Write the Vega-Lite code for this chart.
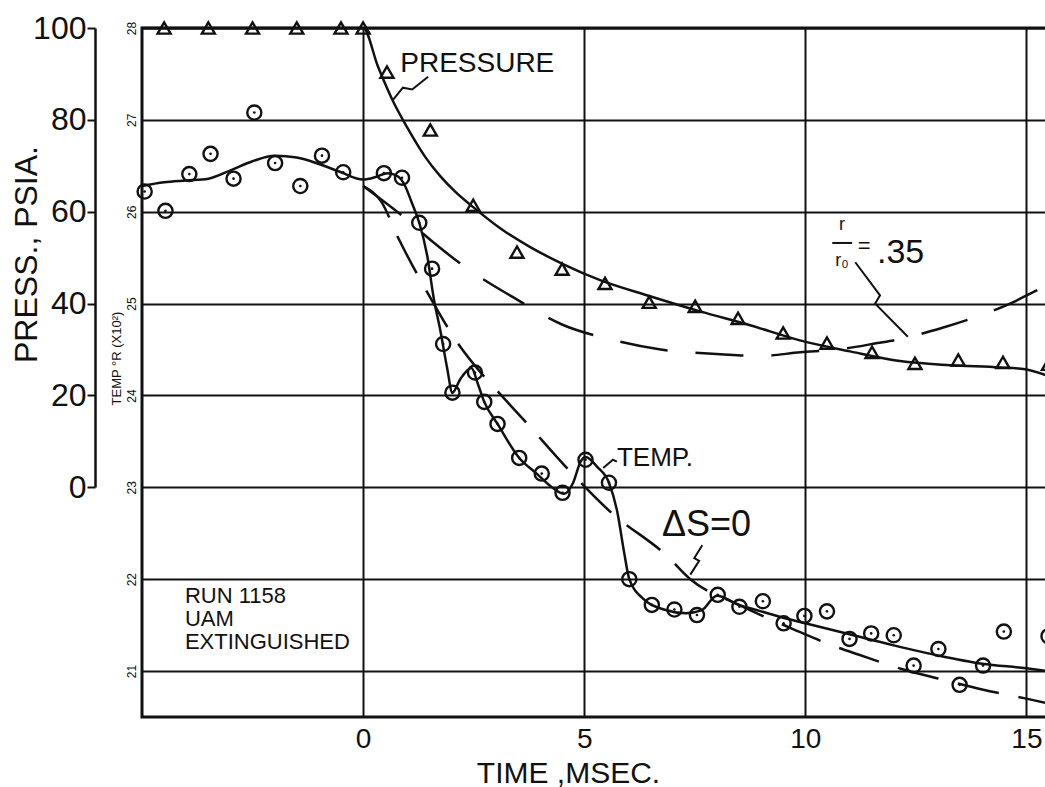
{
  "$schema": "https://vega.github.io/schema/vega-lite/v6.json",
  "width": 905,
  "height": 689,
  "autosize": "none",
  "padding": {"left": 142, "top": 28, "right": 0, "bottom": 70},
  "background": "white",
  "config": {
    "view": {"stroke": "#111", "strokeWidth": 3},
    "font": "Liberation Sans",
    "axis": {"labelFont": "Liberation Sans", "titleFont": "Liberation Sans", "labelColor": "#111", "titleColor": "#111", "titleFontWeight": "normal"}
  },
  "datasets": {
    "tempPoints": [
      {"t": -4.94, "T": 26.22}, {"t": -4.47, "T": 26.01}, {"t": -3.93, "T": 26.41}, {"t": -3.45, "T": 26.63},
      {"t": -2.93, "T": 26.36}, {"t": -2.46, "T": 27.08}, {"t": -1.99, "T": 26.53}, {"t": -1.42, "T": 26.28},
      {"t": -0.93, "T": 26.61}, {"t": -0.45, "T": 26.43}, {"t": 0.47, "T": 26.42}, {"t": 0.88, "T": 26.37},
      {"t": 1.27, "T": 25.88}, {"t": 1.56, "T": 25.38}, {"t": 1.81, "T": 24.56}, {"t": 2.02, "T": 24.03},
      {"t": 2.53, "T": 24.25}, {"t": 2.74, "T": 23.93}, {"t": 3.04, "T": 23.69}, {"t": 3.53, "T": 23.32},
      {"t": 4.04, "T": 23.15}, {"t": 4.51, "T": 22.94}, {"t": 5.03, "T": 23.3}, {"t": 5.56, "T": 23.05},
      {"t": 6.02, "T": 22.0}, {"t": 6.53, "T": 21.72}, {"t": 7.04, "T": 21.67}, {"t": 7.55, "T": 21.61},
      {"t": 8.02, "T": 21.83}, {"t": 8.51, "T": 21.7}, {"t": 9.04, "T": 21.76}, {"t": 9.51, "T": 21.52},
      {"t": 9.98, "T": 21.6}, {"t": 10.49, "T": 21.65}, {"t": 11.0, "T": 21.35}, {"t": 11.49, "T": 21.41},
      {"t": 12.0, "T": 21.39}, {"t": 12.45, "T": 21.06}, {"t": 13.01, "T": 21.24}, {"t": 13.49, "T": 20.85},
      {"t": 14.02, "T": 21.06}, {"t": 14.49, "T": 21.43}, {"t": 15.5, "T": 21.38}
    ],
    "tempCurve": [
      {"t": -5.0, "T": 26.28}, {"t": -4.5, "T": 26.32}, {"t": -4.0, "T": 26.34}, {"t": -3.5, "T": 26.36},
      {"t": -3.0, "T": 26.45}, {"t": -2.5, "T": 26.55}, {"t": -2.0, "T": 26.61}, {"t": -1.5, "T": 26.59},
      {"t": -1.0, "T": 26.52}, {"t": -0.5, "T": 26.43}, {"t": 0.0, "T": 26.35}, {"t": 0.3, "T": 26.38},
      {"t": 0.55, "T": 26.42}, {"t": 0.8, "T": 26.38}, {"t": 0.95, "T": 26.28}, {"t": 1.1, "T": 26.1},
      {"t": 1.27, "T": 25.88}, {"t": 1.45, "T": 25.52}, {"t": 1.6, "T": 25.05}, {"t": 1.75, "T": 24.7},
      {"t": 1.9, "T": 24.3}, {"t": 2.02, "T": 24.03}, {"t": 2.2, "T": 24.18}, {"t": 2.45, "T": 24.3},
      {"t": 2.6, "T": 24.12}, {"t": 2.74, "T": 23.93}, {"t": 3.04, "T": 23.69}, {"t": 3.53, "T": 23.32},
      {"t": 3.9, "T": 23.16}, {"t": 4.3, "T": 22.99}, {"t": 4.55, "T": 22.93}, {"t": 4.75, "T": 23.05},
      {"t": 4.92, "T": 23.28}, {"t": 5.03, "T": 23.33}, {"t": 5.3, "T": 23.22}, {"t": 5.56, "T": 23.05},
      {"t": 5.75, "T": 22.73}, {"t": 5.9, "T": 22.3}, {"t": 6.02, "T": 22.0}, {"t": 6.35, "T": 21.78},
      {"t": 6.8, "T": 21.67}, {"t": 7.3, "T": 21.63}, {"t": 7.65, "T": 21.66}, {"t": 8.0, "T": 21.82},
      {"t": 8.5, "T": 21.72}, {"t": 9.0, "T": 21.65}, {"t": 9.5, "T": 21.58}, {"t": 10.0, "T": 21.52},
      {"t": 11.0, "T": 21.4}, {"t": 12.0, "T": 21.28}, {"t": 13.0, "T": 21.17}, {"t": 14.0, "T": 21.08},
      {"t": 15.0, "T": 21.03}, {"t": 15.47, "T": 21.0}
    ],
    "isentropic": [
      {"t": 0.0, "T": 26.28}, {"t": 0.41, "T": 26.11}, {"t": 0.81, "T": 25.7}, {"t": 1.42, "T": 25.15},
      {"t": 2.17, "T": 24.55}, {"t": 2.73, "T": 24.21}, {"t": 3.07, "T": 24.03}, {"t": 3.68, "T": 23.71},
      {"t": 4.63, "T": 23.2}, {"t": 5.6, "T": 22.73}, {"t": 6.88, "T": 22.25}, {"t": 7.4, "T": 22.0},
      {"t": 8.5, "T": 21.72}, {"t": 9.71, "T": 21.46}, {"t": 10.66, "T": 21.27}, {"t": 11.2, "T": 21.18},
      {"t": 12.2, "T": 21.02}, {"t": 13.0, "T": 20.92}, {"t": 14.0, "T": 20.8}, {"t": 15.0, "T": 20.7},
      {"t": 15.47, "T": 20.65}
    ],
    "ratio035": [
      {"t": 0.0, "T": 26.28}, {"t": 0.9, "T": 25.95}, {"t": 1.58, "T": 25.67}, {"t": 2.33, "T": 25.39},
      {"t": 3.39, "T": 25.07}, {"t": 4.51, "T": 24.77}, {"t": 5.6, "T": 24.61}, {"t": 6.73, "T": 24.5},
      {"t": 8.08, "T": 24.45}, {"t": 8.98, "T": 24.43}, {"t": 9.89, "T": 24.47}, {"t": 10.74, "T": 24.5},
      {"t": 11.63, "T": 24.57}, {"t": 12.1, "T": 24.61}, {"t": 13.12, "T": 24.74}, {"t": 13.77, "T": 24.84},
      {"t": 14.68, "T": 25.01}, {"t": 15.13, "T": 25.12}, {"t": 15.47, "T": 25.2}
    ],
    "leaders": [
      {"g": "pressure", "i": 1, "t": 0.68, "T": 27.22}, {"g": "pressure", "i": 2, "t": 0.9, "T": 27.35},
      {"g": "pressure", "i": 3, "t": 1.11, "T": 27.33}, {"g": "pressure", "i": 4, "t": 1.47, "T": 27.47},
      {"g": "temp", "i": 1, "t": 5.43, "T": 23.21}, {"g": "temp", "i": 2, "t": 5.65, "T": 23.3},
      {"g": "temp", "i": 3, "t": 5.74, "T": 23.28},
      {"g": "ds", "i": 1, "t": 7.67, "T": 22.37}, {"g": "ds", "i": 2, "t": 7.49, "T": 22.23},
      {"g": "ds", "i": 3, "t": 7.6, "T": 22.2}, {"g": "ds", "i": 4, "t": 7.4, "T": 22.05},
      {"g": "ratio", "i": 1, "t": 11.13, "T": 25.45}, {"g": "ratio", "i": 2, "t": 11.69, "T": 25.09},
      {"g": "ratio", "i": 3, "t": 11.58, "T": 25.0}, {"g": "ratio", "i": 4, "t": 12.32, "T": 24.64},
      {"g": "fracbar", "i": 1, "t": 10.61, "T": 25.66}, {"g": "fracbar", "i": 2, "t": 11.06, "T": 25.66}
    ],
    "pressCurve": [
      {"t": -5.0, "p": 100}, {"t": -2.5, "p": 100}, {"t": 0.0, "p": 100}, {"t": 0.34, "p": 91.5},
      {"t": 0.68, "p": 84.0}, {"t": 1.0, "p": 78.3}, {"t": 1.4, "p": 72.0}, {"t": 1.74, "p": 67.8},
      {"t": 2.1, "p": 64.2}, {"t": 2.49, "p": 61.0}, {"t": 3.1, "p": 56.4}, {"t": 3.78, "p": 52.3},
      {"t": 4.52, "p": 48.6}, {"t": 5.36, "p": 45.1}, {"t": 6.49, "p": 41.6}, {"t": 7.62, "p": 38.3},
      {"t": 8.75, "p": 35.3}, {"t": 9.88, "p": 32.0}, {"t": 11.01, "p": 29.6}, {"t": 12.14, "p": 27.5},
      {"t": 13.27, "p": 26.6}, {"t": 14.41, "p": 26.1}, {"t": 14.97, "p": 25.7}, {"t": 15.47, "p": 24.3}
    ],
    "pressPoints": [
      {"t": -4.5, "p": 100}, {"t": -3.5, "p": 100}, {"t": -2.5, "p": 100}, {"t": -1.5, "p": 100},
      {"t": -0.5, "p": 100}, {"t": 0.0, "p": 100}, {"t": 0.54, "p": 90.4}, {"t": 1.52, "p": 77.8},
      {"t": 2.49, "p": 61.4}, {"t": 3.48, "p": 51.2}, {"t": 4.5, "p": 47.5}, {"t": 5.47, "p": 44.4},
      {"t": 6.47, "p": 40.3}, {"t": 7.51, "p": 39.4}, {"t": 8.48, "p": 36.8}, {"t": 9.5, "p": 33.6},
      {"t": 10.49, "p": 31.4}, {"t": 11.51, "p": 29.4}, {"t": 12.48, "p": 27.0}, {"t": 13.46, "p": 27.7},
      {"t": 14.47, "p": 27.2}, {"t": 15.5, "p": 26.8}
    ]
  },
  "encoding": {
    "x": {
      "field": "t",
      "type": "quantitative",
      "scale": {"domain": [-5, 15.466], "nice": false, "zero": false},
      "axis": {
        "values": [0, 5, 10, 15],
        "grid": true, "gridColor": "#111", "gridWidth": 2, "gridOpacity": 1,
        "domain": false, "ticks": false,
        "labelFontSize": 28, "labelPadding": 8, "labelFlush": false,
        "title": "TIME ,MSEC.", "titleFontSize": 30,
        "titleX": 426, "titleY": 56, "titleAlign": "center", "titleBaseline": "middle"
      }
    }
  },
  "layer": [
    {
      "encoding": {
        "y": {
          "field": "T",
          "type": "quantitative",
          "scale": {"domain": [20.5, 28], "nice": false, "zero": false},
          "axis": {
            "orient": "left",
            "values": [21, 22, 23, 24, 25, 26, 27, 28],
            "grid": true, "gridColor": "#111", "gridWidth": 2, "gridOpacity": 1,
            "domain": false, "ticks": false,
            "labelAngle": -90, "labelAlign": "center", "labelBaseline": "bottom",
            "labelFontSize": 12, "labelPadding": 4,
            "title": "TEMP °R (X10²)", "titleFontSize": 13,
            "titleAngle": -90, "titleX": -26, "titleY": 330, "titleAlign": "center", "titleBaseline": "middle"
          }
        }
      },
      "layer": [
        {"data": {"name": "tempCurve"}, "mark": {"type": "line", "color": "#111", "strokeWidth": 2.5, "interpolate": "monotone"}},
        {"data": {"name": "isentropic"}, "mark": {"type": "line", "color": "#111", "strokeWidth": 2.5, "strokeDash": [42, 20], "interpolate": "monotone"}},
        {"data": {"name": "ratio035"}, "mark": {"type": "line", "color": "#111", "strokeWidth": 2.5, "strokeDash": [48, 28], "interpolate": "monotone"}},
        {"data": {"name": "tempPoints"}, "mark": {"type": "point", "shape": "circle", "filled": false, "size": 200, "strokeWidth": 2.4, "color": "#111", "opacity": 1}},
        {"data": {"name": "tempPoints"}, "mark": {"type": "point", "shape": "circle", "filled": true, "size": 7, "color": "#111", "opacity": 1}},
        {"data": {"name": "leaders"}, "mark": {"type": "line", "color": "#111", "strokeWidth": 2}, "encoding": {"detail": {"field": "g", "type": "nominal"}, "order": {"field": "i", "type": "quantitative"}}},
        {"data": {"values": [{"t": 0.84, "T": 27.61, "label": "PRESSURE"}]}, "mark": {"type": "text", "align": "left", "baseline": "middle", "fontSize": 28, "color": "#111"}, "encoding": {"text": {"field": "label"}}},
        {"data": {"values": [{"t": 5.74, "T": 23.32, "label": "TEMP."}]}, "mark": {"type": "text", "align": "left", "baseline": "middle", "fontSize": 26, "color": "#111"}, "encoding": {"text": {"field": "label"}}},
        {"data": {"values": [{"t": 6.76, "T": 22.59, "label": "ΔS=0"}]}, "mark": {"type": "text", "align": "left", "baseline": "middle", "fontSize": 36, "color": "#111"}, "encoding": {"text": {"field": "label"}}},
        {"data": {"values": [{"t": 10.83, "T": 25.86, "label": "r"}, {"t": 10.83, "T": 25.46, "label": "r₀"}]}, "mark": {"type": "text", "align": "center", "baseline": "middle", "fontSize": 18, "color": "#111"}, "encoding": {"text": {"field": "label"}}},
        {"data": {"values": [{"t": 11.33, "T": 25.63, "label": "="}]}, "mark": {"type": "text", "align": "center", "baseline": "middle", "fontSize": 22, "color": "#111"}, "encoding": {"text": {"field": "label"}}},
        {"data": {"values": [{"t": 11.62, "T": 25.55, "label": ".35"}]}, "mark": {"type": "text", "align": "left", "baseline": "middle", "fontSize": 34, "color": "#111"}, "encoding": {"text": {"field": "label"}}},
        {"data": {"values": [{"t": -4.03, "T": 21.93, "label": "RUN  1158\nUAM\nEXTINGUISHED"}]}, "mark": {"type": "text", "align": "left", "baseline": "top", "fontSize": 22, "lineHeight": 23, "lineBreak": "\n", "color": "#111"}, "encoding": {"text": {"field": "label"}}}
      ]
    },
    {
      "encoding": {
        "y": {
          "field": "p",
          "type": "quantitative",
          "scale": {"domain": [-50, 100], "nice": false, "zero": false},
          "axis": {
            "orient": "left", "offset": 47,
            "values": [0, 20, 40, 60, 80, 100],
            "grid": false,
            "domain": true, "domainColor": "#111", "domainWidth": 2.5, "domainDash": [0, 230, 460, 10],
            "ticks": true, "tickColor": "#111", "tickSize": 8, "tickWidth": 2,
            "labelFontSize": 32, "labelPadding": 1,
            "title": "PRESS., PSIA.", "titleFontSize": 32,
            "titleAngle": -90, "titleX": -69, "titleY": 226, "titleAlign": "center", "titleBaseline": "middle"
          }
        }
      },
      "layer": [
        {"data": {"name": "pressCurve"}, "mark": {"type": "line", "color": "#111", "strokeWidth": 2.5, "interpolate": "monotone"}},
        {"data": {"name": "pressPoints"}, "mark": {"type": "point", "shape": "triangle-up", "filled": false, "size": 170, "strokeWidth": 2.4, "color": "#111", "opacity": 1}}
      ]
    }
  ],
  "resolve": {"scale": {"y": "independent"}, "axis": {"y": "independent"}}
}
